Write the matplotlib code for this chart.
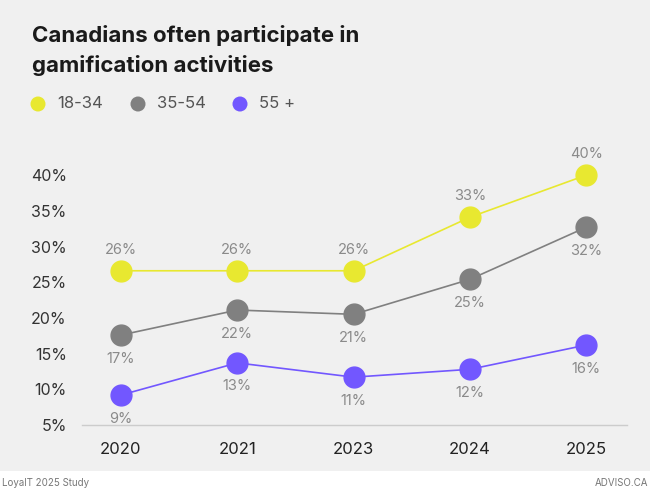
import matplotlib.pyplot as plt
import matplotlib.patches as mpatches

# Data
years = ['2020', '2021', '2023', '2024', '2025']
young = [26.6, 26.6, 26.6, 34.1, 40.0]
middle = [17.6, 21.1, 20.5, 25.4, 32.7]
senior = [9.2, 13.7, 11.7, 12.8, 16.2]
young_labels = ['26%', '26%', '26%', '33%', '40%']
middle_labels = ['17%', '22%', '21%', '25%', '32%']
senior_labels = ['9%', '13%', '11%', '12%', '16%']
yticks = [5, 10, 15, 20, 25, 30, 35, 40]

c_young = '#e8e830'
c_middle = '#808080'
c_senior = '#7257ff'
bg = '#f0f0f0'

plt.rcParams['font.family'] = ['Inter', 'DejaVu Sans']

fig = plt.figure(figsize=(6.5, 4.95), dpi=100)
fig.patch.set_facecolor('white')
# grey panel behind chart, white strip for footer
fig.add_artist(mpatches.Rectangle((0, 24 / 495), 1, 1, transform=fig.transFigure,
                                  facecolor=bg, edgecolor='none', zorder=0))

ax = fig.add_axes([82 / 650, (495 - 425) / 495, (627 - 82) / 650, (425 - 150) / 495])
ax.set_facecolor(bg)

x = list(range(len(years)))
for vals, labs, col, above in [(young, young_labels, c_young, True),
                               (middle, middle_labels, c_middle, False),
                               (senior, senior_labels, c_senior, False)]:
    ax.plot(x, vals, color=col, lw=1.2, marker='o', markersize=15, zorder=3)
    for xi, v, t in zip(x, vals, labs):
        ax.annotate(t, (xi, v), xytext=(0, 15 if above else -17), textcoords='offset points',
                    ha='center', va='center', fontsize=10.5, color='#8a8a8a')

ax.set_xlim(-0.335, 4.35)
ax.set_ylim(5, 5 + (425 - 150) / 7.14)
ax.set_xticks(x)
ax.set_xticklabels(years, fontsize=12, color='#222222')
ax.set_yticks(yticks)
ax.set_yticklabels([f'{t}%' for t in yticks], fontsize=11.5, color='#333333')
ax.tick_params(length=0)
ax.tick_params(axis='x', pad=12)
ax.tick_params(axis='y', pad=11)
for s in ['top', 'right', 'left']:
    ax.spines[s].set_visible(False)
ax.spines['bottom'].set_color('#cccccc')
ax.spines['bottom'].set_linewidth(1)

# title
fig.text(32 / 650, 1 - 36 / 495, 'Canadians often participate in', fontsize=16, fontweight='bold',
         color='#1a1a1a', va='center', ha='left')
fig.text(32 / 650, 1 - 66 / 495, 'gamification activities', fontsize=16, fontweight='bold',
         color='#1a1a1a', va='center', ha='left')

# legend
for cx, col, lab in [(38, c_young, '18-34'), (138, c_middle, '35-54'), (240, c_senior, '55 +')]:
    fig.add_artist(mpatches.Ellipse((cx / 650, 1 - 104 / 495), 15 / 650, 15 / 495,
                                    transform=fig.transFigure, facecolor=col, edgecolor='none'))
    fig.text((cx + 19) / 650, 1 - 104 / 495, lab, fontsize=12, color='#555555',
             va='center', ha='left')

# footer
fig.text(2 / 650, 1 - 483 / 495, 'LoyalT 2025 Study', fontsize=7, color='#777777',
         va='center', ha='left')
fig.text(648 / 650, 1 - 483 / 495, 'ADVISO.CA', fontsize=7, color='#777777',
         va='center', ha='right')

fig.savefig('out.png', dpi=100, facecolor=fig.get_facecolor())
